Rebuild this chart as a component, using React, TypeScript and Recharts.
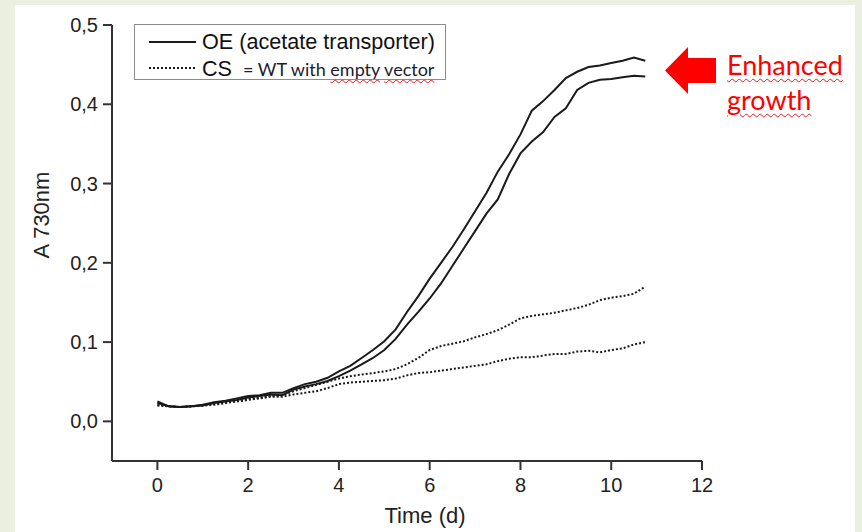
import { CartesianGrid, Line, LineChart, XAxis, YAxis } from "recharts";

// Days since inoculation
const DAYS = [
  0, 0.25, 0.5, 0.75, 1, 1.25, 1.5, 1.75, 2, 2.25, 2.5, 2.75, 3, 3.25, 3.5, 3.75, 4, 4.25, 4.5,
  4.75, 5, 5.25, 5.5, 5.75, 6, 6.25, 6.5, 6.75, 7, 7.25, 7.5, 7.75, 8, 8.25, 8.5, 8.75, 9, 9.25,
  9.5, 9.75, 10, 10.25, 10.5, 10.75,
];

// OE (acetate transporter), two replicates
const OE_A = [
  0.025, 0.019, 0.018, 0.019, 0.021, 0.024, 0.026, 0.029, 0.032, 0.033, 0.036, 0.036, 0.042, 0.047,
  0.05, 0.055, 0.063, 0.07, 0.08, 0.09, 0.101, 0.116, 0.138, 0.158, 0.18, 0.2, 0.22, 0.242, 0.265,
  0.288, 0.315, 0.337, 0.362, 0.392, 0.404, 0.418, 0.433, 0.441, 0.447, 0.449, 0.452, 0.455, 0.459,
  0.455,
];
const OE_B = [
  0.023, 0.019, 0.018, 0.019, 0.02, 0.023, 0.025, 0.027, 0.03, 0.032, 0.034, 0.033, 0.04, 0.044,
  0.047, 0.051, 0.057, 0.064, 0.072, 0.08, 0.09, 0.104, 0.122, 0.138, 0.155, 0.174, 0.196, 0.218,
  0.24, 0.262, 0.28, 0.312, 0.338, 0.353, 0.365, 0.384, 0.395, 0.418, 0.427, 0.431, 0.432, 0.434,
  0.436, 0.435,
];

// CS = WT with empty vector, two replicates
const CS_A = [
  0.021, 0.019, 0.018, 0.019, 0.02, 0.022, 0.024, 0.026, 0.028, 0.03, 0.032, 0.033, 0.038, 0.042,
  0.046, 0.05, 0.054, 0.057, 0.059, 0.061, 0.063, 0.066, 0.072, 0.08, 0.09, 0.095, 0.098, 0.101,
  0.106, 0.11, 0.115, 0.122, 0.13, 0.133, 0.135, 0.137, 0.14, 0.143, 0.147, 0.153, 0.156, 0.158,
  0.161, 0.17,
];
const CS_B = [
  0.02, 0.019, 0.018, 0.019, 0.02, 0.021, 0.023, 0.025, 0.027, 0.029, 0.031, 0.031, 0.034, 0.036,
  0.038, 0.042, 0.047, 0.049, 0.05, 0.051, 0.052, 0.054, 0.058, 0.061, 0.062, 0.064, 0.066, 0.068,
  0.07, 0.072, 0.076, 0.079, 0.081, 0.081, 0.083, 0.085, 0.085, 0.088, 0.089, 0.087, 0.09, 0.092,
  0.097, 0.1,
];

const X_TICKS = [0, 2, 4, 6, 8, 10, 12];
const Y_TICKS = [0, 0.1, 0.2, 0.3, 0.4, 0.5];

const data = DAYS.map((t, i) => ({
  t,
  oeA: OE_A[i],
  oeB: OE_B[i],
  csA: CS_A[i],
  csB: CS_B[i],
}));

const INK = "#1a1a1a";
const AXIS = "#333333";
const FONT = "'Liberation Sans', Arial, sans-serif";

const tickStyle = { fill: "#222", fontSize: 20, fontFamily: FONT };

function AxisTitleX() {
  return (
    <text x={425} y={523} textAnchor="middle" fill="#222" fontSize={22} fontFamily={FONT}>
      Time (d)
    </text>
  );
}

function AxisTitleY() {
  return (
    <text
      x={41}
      y={215}
      transform="rotate(-90, 41, 215)"
      textAnchor="middle"
      dominantBaseline="central"
      fill="#222"
      fontSize={22}
      fontFamily={FONT}
    >
      A 730nm
    </text>
  );
}

const wavy = {
  textDecorationLine: "underline",
  textDecorationStyle: "wavy" as const,
  textDecorationColor: "#e02020",
  textDecorationThickness: "1px",
  textUnderlineOffset: "3px",
};

export default function App() {
  return (
    <div
      style={{
        position: "absolute",
        left: 0,
        top: 0,
        width: 862,
        height: 532,
        background: "#ebefdf",
        overflow: "hidden",
      }}
    >
      <div
        style={{
          position: "absolute",
          left: 15,
          top: 5,
          width: 840,
          height: 527,
          background: "#ffffff",
        }}
      />
      <div style={{ position: "absolute", left: 0, top: 0 }}>
        <LineChart
          width={862}
          height={532}
          data={data}
          margin={{ top: 25, right: 160, bottom: 9, left: 52 }}
        >
          <CartesianGrid stroke="none" />
          <XAxis
            type="number"
            dataKey="t"
            domain={[-1, 12]}
            ticks={X_TICKS}
            height={62}
            tick={tickStyle}
            tickSize={9}
            tickMargin={8}
            axisLine={{ stroke: AXIS, strokeWidth: 2 }}
            tickLine={{ stroke: AXIS, strokeWidth: 2 }}
            label={<AxisTitleX />}
          />
          <YAxis
            type="number"
            domain={[-0.05, 0.5]}
            ticks={Y_TICKS}
            width={60}
            tick={tickStyle}
            tickSize={9}
            tickMargin={5}
            tickFormatter={(v: number) => v.toFixed(1).replace(".", ",")}
            axisLine={{ stroke: AXIS, strokeWidth: 2 }}
            tickLine={{ stroke: AXIS, strokeWidth: 2 }}
            label={<AxisTitleY />}
          />
          <Line
            type="linear"
            dataKey="csA"
            stroke={INK}
            strokeWidth={2}
            strokeDasharray="2 2"
            dot={false}
            isAnimationActive={false}
          />
          <Line
            type="linear"
            dataKey="csB"
            stroke={INK}
            strokeWidth={2}
            strokeDasharray="2 2"
            dot={false}
            isAnimationActive={false}
          />
          <Line
            type="linear"
            dataKey="oeA"
            stroke={INK}
            strokeWidth={2}
            dot={false}
            isAnimationActive={false}
          />
          <Line
            type="linear"
            dataKey="oeB"
            stroke={INK}
            strokeWidth={2}
            dot={false}
            isAnimationActive={false}
          />
        </LineChart>
      </div>

      {/* legend box */}
      <div
        style={{
          position: "absolute",
          left: 134,
          top: 24,
          width: 312,
          height: 56,
          boxSizing: "border-box",
          border: "1px solid #8c8c8c",
          background: "#fff",
        }}
      >
        <svg width={70} height={56} style={{ position: "absolute", left: 0, top: 0 }}>
          <line x1={14} x2={61} y1={17} y2={17} stroke={INK} strokeWidth={2} />
          <line
            x1={14}
            x2={61}
            y1={43}
            y2={43}
            stroke={INK}
            strokeWidth={2}
            strokeDasharray="2 2"
          />
        </svg>
        <div
          style={{
            position: "absolute",
            left: 67,
            top: 6,
            fontFamily: FONT,
            fontSize: 21.6,
            lineHeight: "21px",
            color: "#111",
            whiteSpace: "nowrap",
          }}
        >
          OE (acetate transporter)
        </div>
        <div
          style={{
            position: "absolute",
            left: 67,
            top: 33,
            fontFamily: FONT,
            fontSize: 21.6,
            lineHeight: "21px",
            color: "#111",
            whiteSpace: "nowrap",
          }}
        >
          CS
        </div>
        <div
          style={{
            position: "absolute",
            left: 108,
            top: 34,
            fontFamily: "Lato, 'Open Sans', sans-serif",
            fontSize: 18,
            lineHeight: "20px",
            color: "#1c1c30",
            whiteSpace: "nowrap",
          }}
        >
          = WT with <span style={wavy}>empty</span> <span style={wavy}>vector</span>
        </div>
      </div>

      {/* red arrow callout */}
      <svg
        width={862}
        height={532}
        style={{ position: "absolute", left: 0, top: 0, pointerEvents: "none" }}
      >
        <polygon
          points="665,70.5 688,47 688,58 716,58 716,83 688,83 688,94"
          fill="#ff0000"
        />
      </svg>
      <div
        style={{
          position: "absolute",
          left: 727,
          top: 47,
          fontFamily: "Lato, 'Open Sans', sans-serif",
          fontSize: 27,
          lineHeight: "35px",
          color: "#ff0000",
          whiteSpace: "nowrap",
        }}
      >
        <div>
          <span style={wavy}>Enhanced</span>
        </div>
        <div>
          <span style={wavy}>growth</span>
        </div>
      </div>
    </div>
  );
}
